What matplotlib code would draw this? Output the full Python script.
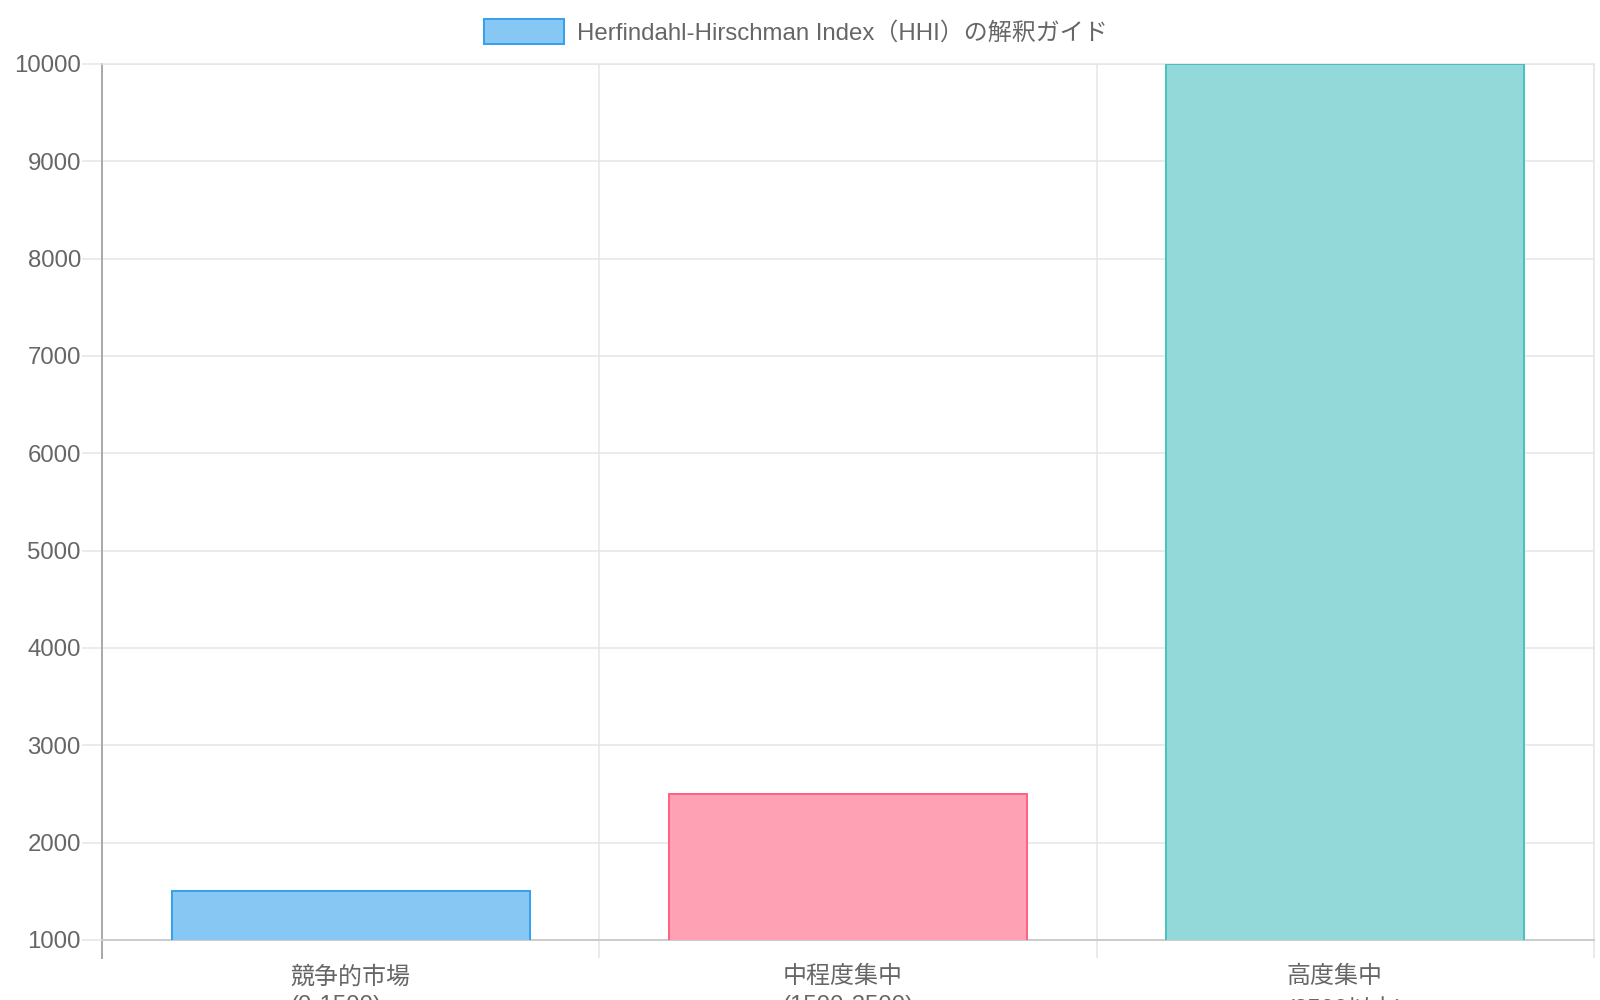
import matplotlib.pyplot as plt
from matplotlib.patches import Rectangle

# HHI guide data
categories = ["競争的市場\n(0-1500)", "中程度集中\n(1500-2500)", "高度集中\n(2500以上)"]
hhi_values = [1500, 2500, 10000]
legend_label = "Herfindahl-Hirschman Index（HHI）の解釈ガイド"
y_ticks = [1000, 2000, 3000, 4000, 5000, 6000, 7000, 8000, 9000, 10000]

fill_colors = ["#86C7F3", "#FFA1B5", "#93D9D9"]
edge_colors = ["#36A2EB", "#FF6384", "#4BC0C0"]

plt.rcParams["font.family"] = ["Liberation Sans", "Noto Sans CJK JP", "DejaVu Sans"]

grid_color = "#e5e5e5"
text_color = "#666666"
px = 0.72  # points per pixel at dpi 100

fig = plt.figure(figsize=(16, 10), dpi=100)
ax = fig.add_axes([0.06375, 0.06, 0.9325, 0.876])

x = list(range(len(categories)))
ax.bar(x, hhi_values, width=0.72, color=fill_colors, edgecolor=edge_colors,
       linewidth=2 * px, zorder=3)

ax.set_xlim(-0.5, len(categories) - 0.5)
ax.set_ylim(1000, 10000)

# y axis
ax.set_yticks(y_ticks)
ax.tick_params(axis="y", length=20 * px, width=1.5 * px, color=grid_color,
               labelsize=24 * px, labelcolor=text_color, pad=1 * px)
ax.yaxis.grid(True, color=grid_color, linewidth=1.5 * px, zorder=0)

# x axis: labels at centres, ticks/grid at category boundaries
ax.set_xticks(x)
ax.set_xticklabels(categories, linespacing=1.4)
for lbl in ax.get_xticklabels():
    lbl.set_multialignment("left")
ax.set_xticks([i - 0.5 for i in range(len(categories) + 1)], minor=True)
ax.tick_params(axis="x", which="major", length=0, labelsize=24 * px,
               labelcolor=text_color, pad=26 * px)
ax.tick_params(axis="x", which="minor", length=18 * px, width=1.5 * px,
               color=grid_color)
ax.xaxis.grid(True, which="minor", color=grid_color, linewidth=1.5 * px, zorder=0)

for side in ["top", "right"]:
    ax.spines[side].set_color(grid_color)
    ax.spines[side].set_linewidth(1.5 * px)
ax.spines["left"].set_color("#aaaaaa")
ax.spines["left"].set_linewidth(2 * px)
ax.spines["bottom"].set_color("#cccccc")
ax.spines["bottom"].set_linewidth(2 * px)
ax.plot([0, 0], [0, -18 / 876], transform=ax.transAxes, color="#aaaaaa",
        linewidth=2 * px, clip_on=False)

# legend drawn by hand, Chart.js style
fig.patches.append(Rectangle((484 / 1600, 1 - 44 / 1000), 80 / 1600, 25 / 1000,
                             transform=fig.transFigure, facecolor=fill_colors[0],
                             edgecolor=edge_colors[0], linewidth=2 * px))
fig.text(577 / 1600, 1 - 33 / 1000, legend_label, fontsize=24 * px,
         color=text_color, va="center", ha="left")

fig.savefig("out.png", dpi=100)
